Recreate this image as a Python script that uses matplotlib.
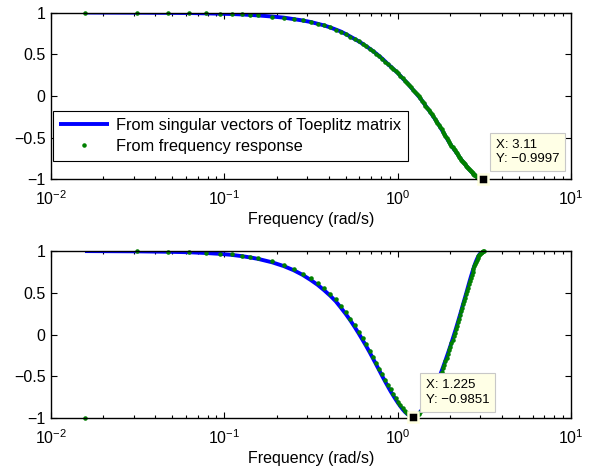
import numpy as np
import matplotlib
matplotlib.use('Agg')
import matplotlib.pyplot as plt

plt.rcParams['font.family'] = ['Liberation Sans', 'DejaVu Sans']
plt.rcParams['mathtext.fontset'] = 'custom'
plt.rcParams['mathtext.rm'] = 'Liberation Sans'
plt.rcParams['mathtext.it'] = 'Liberation Sans:italic'
plt.rcParams['mathtext.bf'] = 'Liberation Sans:bold'

# frequency grid (rad/s)
freq = [0.0157, 0.0314, 0.0471, 0.0628, 0.0785, 0.0942, 0.1100, 0.1257, 0.1414, 0.1571,
        0.1885, 0.2199, 0.2513, 0.2827, 0.3142, 0.3456, 0.3770, 0.4084, 0.4398, 0.4712,
        0.5027, 0.5341, 0.5655, 0.5969, 0.6283, 0.6597, 0.6912, 0.7226, 0.7540, 0.7854,
        0.8168, 0.8482, 0.8796, 0.9111, 0.9425, 0.9739, 1.0053, 1.0367, 1.0681, 1.0996,
        1.1310, 1.1624, 1.1938, 1.2252, 1.2566, 1.2881, 1.3195, 1.3509, 1.3823, 1.4137,
        1.4451, 1.4765, 1.5080, 1.5394, 1.5708, 1.6022, 1.6336, 1.6650, 1.6965, 1.7279,
        1.7593, 1.7907, 1.8221, 1.8535, 1.8850, 1.9164, 1.9478, 1.9792, 2.0106, 2.0420,
        2.0735, 2.1049, 2.1363, 2.1677, 2.1991, 2.2305, 2.2619, 2.2934, 2.3248, 2.3562,
        2.3876, 2.4190, 2.4504, 2.4819, 2.5133, 2.5447, 2.5761, 2.6075, 2.6389, 2.6704,
        2.7018, 2.7332, 2.7646, 2.7960, 2.8274, 2.8588, 2.8903, 2.9217, 2.9531, 2.9845,
        3.0159, 3.0473, 3.0788, 3.1102, 3.1416]

# top panel: both curves overlap
top_svd = [1.000, 0.998, 0.996, 0.994, 0.990, 0.986, 0.982, 0.977, 0.971, 0.965,
           0.952, 0.939, 0.921, 0.905, 0.887, 0.865, 0.845, 0.821, 0.796, 0.771,
           0.741, 0.711, 0.682, 0.654, 0.625, 0.595, 0.565, 0.536, 0.506, 0.476,
           0.445, 0.413, 0.381, 0.353, 0.325, 0.298, 0.272, 0.241, 0.211, 0.185,
           0.160, 0.131, 0.102, 0.075, 0.049, 0.023, -0.003, -0.029, -0.056, -0.085,
           -0.114, -0.140, -0.166, -0.192, -0.218, -0.244, -0.270, -0.295, -0.320, -0.347,
           -0.374, -0.400, -0.427, -0.452, -0.478, -0.504, -0.529, -0.552, -0.574, -0.595,
           -0.615, -0.634, -0.652, -0.670, -0.688, -0.707, -0.726, -0.744, -0.761, -0.776,
           -0.791, -0.805, -0.819, -0.834, -0.848, -0.862, -0.875, -0.888, -0.900, -0.911,
           -0.921, -0.931, -0.941, -0.950, -0.959, -0.966, -0.973, -0.979, -0.985, -0.989,
           -0.993, -0.996, -0.9987, -0.9997, -1.000]
top_freq = [1.000, 0.998, 0.996, 0.994, 0.990, 0.986, 0.982, 0.977, 0.971, 0.965,
            0.952, 0.939, 0.921, 0.905, 0.887, 0.865, 0.845, 0.821, 0.796, 0.771,
            0.741, 0.711, 0.682, 0.654, 0.625, 0.595, 0.565, 0.536, 0.506, 0.476,
            0.445, 0.413, 0.381, 0.353, 0.325, 0.298, 0.272, 0.241, 0.211, 0.185,
            0.160, 0.131, 0.102, 0.075, 0.049, 0.023, -0.003, -0.029, -0.056, -0.085,
            -0.114, -0.140, -0.166, -0.192, -0.218, -0.244, -0.270, -0.295, -0.320, -0.347,
            -0.374, -0.400, -0.427, -0.452, -0.478, -0.504, -0.529, -0.552, -0.574, -0.595,
            -0.615, -0.634, -0.652, -0.670, -0.688, -0.707, -0.726, -0.744, -0.761, -0.776,
            -0.791, -0.805, -0.819, -0.834, -0.848, -0.862, -0.875, -0.888, -0.900, -0.911,
            -0.921, -0.931, -0.941, -0.950, -0.959, -0.966, -0.973, -0.979, -0.985, -0.989,
            -0.993, -0.996, -0.9987, -0.9997, -1.000]

# bottom panel
bot_svd = [0.999, 0.996, 0.991, 0.985, 0.976, 0.966, 0.954, 0.939, 0.923, 0.905,
           0.865, 0.820, 0.770, 0.715, 0.655, 0.595, 0.530, 0.465, 0.398, 0.320,
           0.245, 0.168, 0.090, 0.012, -0.065, -0.140, -0.215, -0.290, -0.362, -0.432,
           -0.500, -0.563, -0.622, -0.678, -0.728, -0.775, -0.818, -0.857, -0.892, -0.922,
           -0.946, -0.964, -0.977, -0.985, -0.975, -0.962, -0.945, -0.922, -0.895, -0.866,
           -0.838, -0.808, -0.778, -0.746, -0.713, -0.677, -0.640, -0.600, -0.560, -0.520,
           -0.480, -0.438, -0.395, -0.352, -0.310, -0.267, -0.225, -0.182, -0.140, -0.097,
           -0.055, -0.012, 0.030, 0.072, 0.115, 0.157, 0.200, 0.242, 0.285, 0.328,
           0.370, 0.410, 0.450, 0.490, 0.530, 0.570, 0.610, 0.648, 0.685, 0.720,
           0.755, 0.788, 0.820, 0.848, 0.875, 0.898, 0.920, 0.938, 0.955, 0.968,
           0.980, 0.988, 0.995, 0.999, 1.000]
bot_freq = [-1.000, 0.997, 0.993, 0.987, 0.979, 0.970, 0.959, 0.945, 0.930, 0.913,
            0.875, 0.832, 0.784, 0.731, 0.673, 0.616, 0.553, 0.489, 0.423, 0.345,
            0.270, 0.193, 0.115, 0.037, -0.040, -0.115, -0.190, -0.265, -0.337, -0.407,
            -0.475, -0.538, -0.598, -0.655, -0.706, -0.755, -0.800, -0.842, -0.879, -0.912,
            -0.938, -0.958, -0.973, -0.985, -0.977, -0.965, -0.949, -0.927, -0.901, -0.872,
            -0.844, -0.815, -0.785, -0.753, -0.720, -0.684, -0.647, -0.607, -0.567, -0.527,
            -0.487, -0.445, -0.402, -0.359, -0.317, -0.274, -0.232, -0.189, -0.147, -0.104,
            -0.062, -0.019, 0.023, 0.065, 0.108, 0.150, 0.193, 0.235, 0.278, 0.321,
            0.363, 0.403, 0.443, 0.483, 0.523, 0.563, 0.603, 0.641, 0.679, 0.714,
            0.750, 0.783, 0.815, 0.844, 0.871, 0.895, 0.917, 0.936, 0.953, 0.967,
            0.979, 0.987, 0.994, 0.999, 1.000]

# data tips: point and label offset (points)
tips = [((3.11, -0.9997), (9.3, 10.1)), ((1.225, -0.9851), (9.3, 8.1))]

fig = plt.figure(figsize=(5.94, 4.69), dpi=100)
ax1 = fig.add_axes([0.0859, 0.6173, 0.8754, 0.3560])
ax2 = fig.add_axes([0.0859, 0.1081, 0.8754, 0.3567])

panels = [(ax1, top_svd, top_freq), (ax2, bot_svd, bot_freq)]
for i, (ax, ys, yf) in enumerate(panels):
    ax.plot(freq, ys, color='#0000ff', lw=2.8, solid_capstyle='butt',
            label='From singular vectors of Toeplitz matrix')
    ax.plot(freq, yf, ls='none', marker='.', ms=4.5, color='#008000',
            label='From frequency response', clip_on=False)
    ax.set_xscale('log')
    ax.set_xlim(1e-2, 1e1)
    ax.set_ylim(-1, 1)
    ax.set_yticks([-1, -0.5, 0, 0.5, 1])
    ax.set_yticklabels(['\u22121', '\u22120.5', '0', '0.5', '1'])
    ax.tick_params(which='both', direction='in', top=True, right=True, labelsize=11.5,
                   width=0.8)
    ax.tick_params(which='major', length=4.5)
    ax.tick_params(which='minor', length=2.5)
    ax.tick_params(axis='y', pad=4)
    ax.tick_params(axis='x', pad=7)
    for s in ax.spines.values():
        s.set_linewidth(1.0)
    ax.set_xlabel('Frequency (rad/s)', fontsize=11.5, labelpad=3)

    (tx, ty), off = tips[i]
    ax.plot([tx], [ty], ls='none', marker='s', ms=6.5, color='k', mec='#ffffe1',
            mew=1.8, clip_on=False, zorder=6)
    ax.annotate('X: %s\nY: \u2212%s' % (tx, str(abs(ty))), xy=(tx, ty), xytext=off,
                textcoords='offset points', ha='left', va='bottom', fontsize=9.5,
                linespacing=1.3, zorder=7,
                bbox=dict(boxstyle='square,pad=0.45', fc='#ffffe6', ec='#c8c8c8', lw=0.8))

leg = ax1.legend(loc='lower left', bbox_to_anchor=(0.003, 0.111), borderaxespad=0,
                 fancybox=False, edgecolor='k', framealpha=1, fontsize=11.8,
                 handlelength=3.0, handletextpad=0.45, borderpad=0.42,
                 labelspacing=0.4, numpoints=1)
leg.get_frame().set_linewidth(0.8)

fig.savefig('out.png', dpi=100, facecolor='white')
